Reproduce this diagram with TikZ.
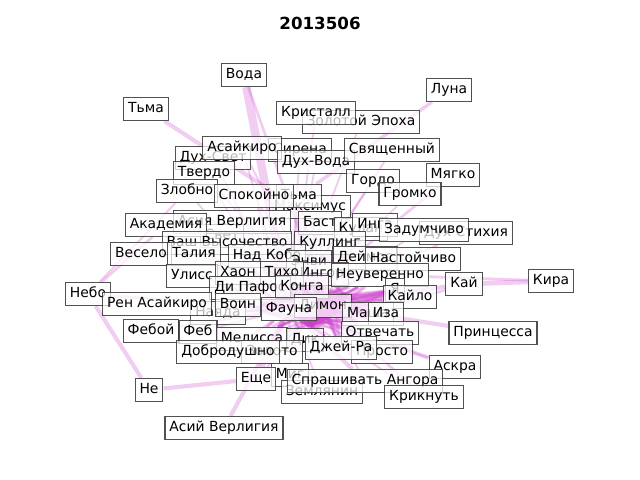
\documentclass[tikz,border=0pt]{standalone}
\usepackage{fontspec}
\setmainfont{DejaVu Sans}
\usetikzlibrary{backgrounds}
\definecolor{edgec}{RGB}{205,60,205}
\tikzset{
  lbl/.style={draw=black!80, line width=0.8pt, fill=white, fill opacity=0.72,
    text opacity=1, draw opacity=0.85, inner xsep=3.2pt, inner ysep=3.4pt,
    text height=7.6pt, text depth=2.2pt, font=\fontsize{10}{12}\selectfont},
  edg/.style={draw=edgec, draw opacity=0.26, line width=#1},
  edg/.default=2pt
}
\begin{document}
\begin{tikzpicture}[x=0.72pt,y=-0.72pt]
\useasboundingbox (0,0) rectangle (640,480);
\node[font=\bfseries\fontsize{12}{14}\selectfont] (title) at (320,23) {2013506};
% nodes (back to front)
\node[lbl] (voda) at (244,75) {Вода};
\node[lbl] (tma) at (146,109) {Тьма};
\node[lbl] (luna) at (449,90) {Луна};
\node[lbl] (zol) at (361,122) {Золотой Эпоха};
\node[lbl] (krist) at (316,113) {Кристалл};
\node[lbl] (sirena) at (300,150) {Сирена};
\node[lbl] (dsvet) at (213,158) {Дух-Свет};
\node[lbl] (asai) at (242,148) {Асайкиро};
\node[lbl] (dvoda) at (316,162) {Дух-Вода};
\node[lbl] (svyas) at (392,150) {Священный};
\node[lbl] (tverdo) at (204,173) {Твердо};
\node[lbl] (gordo) at (373,181) {Гордо};
\node[lbl] (myagko) at (453,175) {Мягко};
\node[lbl] (zlobno) at (187,191) {Злобно};
\node[lbl] (maks) at (310,207) {Максимус};
\node[lbl] (tma2) at (299,196) {Тьма};
\node[lbl] (spok) at (254,196) {Спокойно};
\node[lbl] (gromko) at (410,194) {Громко};
\node[lbl] (svet) at (222,236) {Свет};
\node[lbl] (asiya) at (232,222) {Асия Верлигия};
\node[lbl] (akad) at (166,225) {Академия};
\node[lbl] (bast) at (320,223) {Баст};
\node[lbl] (kulan) at (361,229) {Кулан};
\node[lbl] (inga) at (375,225) {Инга};
\node[lbl] (dstih) at (466,233) {Дух Стихия};
\node[lbl] (zadum) at (424,230) {Задумчиво};
\node[lbl] (vash) at (227,243) {Ваш Высочество};
\node[lbl] (kulling) at (330,243) {Куллинг};
\node[lbl] (veselo) at (141,254) {Весело};
\node[lbl] (taliya) at (194,254) {Талия};
\node[lbl] (nad) at (267,256) {Над Кобо};
\node[lbl] (envi) at (309,262) {Энви};
\node[lbl] (deimos) at (365,258) {Деймос};
\node[lbl] (nast) at (413,259) {Настойчиво};
\node[lbl] (ingor) at (322,274) {Ингор};
\node[lbl] (uliss) at (192,276) {Улисс};
\node[lbl] (haon) at (238,273) {Хаон};
\node[lbl] (tiho) at (282,273) {Тихо};
\node[lbl] (neuv) at (380,275) {Неуверенно};
\node[lbl] (dipaf) at (250,288) {Ди Пафос};
\node[lbl] (konga) at (302,287) {Конга};
\node[lbl] (kai) at (464,284) {Кай};
\node[lbl] (kira) at (551,281) {Кира};
\node[lbl] (nebo) at (88,294) {Небо};
\node[lbl] (nayada) at (218,313) {Наяда};
\node[lbl] (ren) at (157,304) {Рен Асайкиро};
\node[lbl] (voin) at (238,305) {Воин};
\node[lbl] (dimon) at (323,306) {Димон};
\node[lbl] (fauna) at (289,309) {Фауна};
\node[lbl] (ya) at (395,290) {Я};
\node[lbl] (kailo) at (410,297) {Кайло};
\node[lbl] (masha) at (368,314) {Маша};
\node[lbl] (iza) at (386,314) {Иза};
\node[lbl] (feboi) at (151,331) {Фебой};
\node[lbl] (feb) at (198,332) {Феб};
\node[lbl] (meliss) at (252,339) {Мелисса};
\node[lbl] (dik) at (305,340) {Дик};
\node[lbl] (otv) at (380,333) {Отвечать};
\node[lbl] (princ) at (493,333) {Принцесса};
\node[lbl] (zoloto) at (272,352) {Золото};
\node[lbl] (dobr) at (228,352) {Добродушно};
\node[lbl] (prosto) at (382,352) {Просто};
\node[lbl] (djei) at (341,348) {Джей-Ра};
\node[lbl] (askra) at (455,367) {Аскра};
\node[lbl] (mig) at (290,375) {Миг};
\node[lbl] (zeml) at (322,392) {Землянин};
\node[lbl] (esche) at (256,379) {Еще};
\node[lbl] (spr) at (365,381) {Спрашивать Ангора};
\node[lbl] (krik) at (424,397) {Крикнуть};
\node[lbl] (ne) at (149,390) {Не};
\node[lbl] (asii) at (224,428) {Асий Верлигия};
\coordinate (c1) at (318,300);
\coordinate (c2) at (335,312);
\coordinate (c3) at (300,318);
\coordinate (c4) at (345,295);
\coordinate (c5) at (310,325);
% edges
\begin{scope}[on background layer]
\draw[edg=6pt] (voda) -- (fauna);
\draw[edg=2pt] (voda) -- (djei);
\draw[edg=3pt] (tma) -- (bast);
\draw[edg=2.5pt] (luna) -- (tma2);
\draw[edg=2pt] (myagko) -- (fauna);
\draw[edg=3.5pt] (kira) -- (kai);
\draw[edg=2pt] (kira) -- (neuv);
\draw[edg=3pt] (kai) -- (fauna);
\draw[edg=2pt] (kai) -- (masha);
\draw[edg=3pt] (princ) -- (dimon);
\draw[edg=3pt] (askra) -- (fauna);
\draw[edg=2pt] (krik) -- (dimon);
\draw[edg=3pt] (nebo) -- (ne);
\draw[edg=2pt] (nebo) -- (fauna);
\draw[edg=2pt] (nebo) -- (akad);
\draw[edg=3pt] (ne) -- (esche);
\draw[edg=3pt] (asii) -- (fauna);
\draw[edg=4pt] (esche) -- (fauna);
\draw[edg=3pt] (spr) -- (fauna);
\draw[edg=2pt] (ren) -- (fauna);
\draw[edg=2pt] (feboi) -- (fauna);
\foreach \n in {krist,zol,sirena,dsvet,asai,dvoda,svyas,tverdo,gordo,zlobno,spok,gromko,
  asiya,akad,bast,inga,dstih,zadum,vash,veselo,taliya,nast,uliss,haon,neuv,kailo,
  feb,meliss,otv,prosto,djei,zeml,mig,dobr,krik,askra}
  \draw[edg=1.4pt] (\n) -- (fauna);
\foreach \n in {maks,tma2,kulan,kulling,nad,envi,deimos,ingor,tiho,dipaf,konga,voin,
  nayada,ya,iza,masha,dik,zoloto}
  {\draw[edg=1.8pt] (\n) -- (fauna); \draw[edg=1.8pt] (\n) -- (dimon);}
\foreach \n in {spok,asai,bast,vash,haon,tiho,konga,voin,meliss,djei,esche,spr,otv,masha,neuv}
  \draw[edg=1.4pt] (\n) -- (dimon);
\foreach \a in {c1,c2,c3,c4,c5,fauna,dimon}
  \foreach \b in {konga,voin,meliss,masha,djei,iza,envi,tiho,kailo,otv,dik,ya,neuv,ingor}
    \draw[edg=2pt,draw opacity=0.3] (\a) -- (\b);
\foreach \a in {c1,c2,c3,c4,c5}
  \foreach \b in {c1,c2,c3,c4,c5,fauna,dimon}
    \draw[edg=4pt,draw opacity=0.4] (\a) -- (\b);
\draw[edg=1.5pt] (zlobno) -- (nebo);
\draw[edg=1.5pt] (tverdo) -- (konga);
\end{scope}
\end{tikzpicture}
\end{document}
